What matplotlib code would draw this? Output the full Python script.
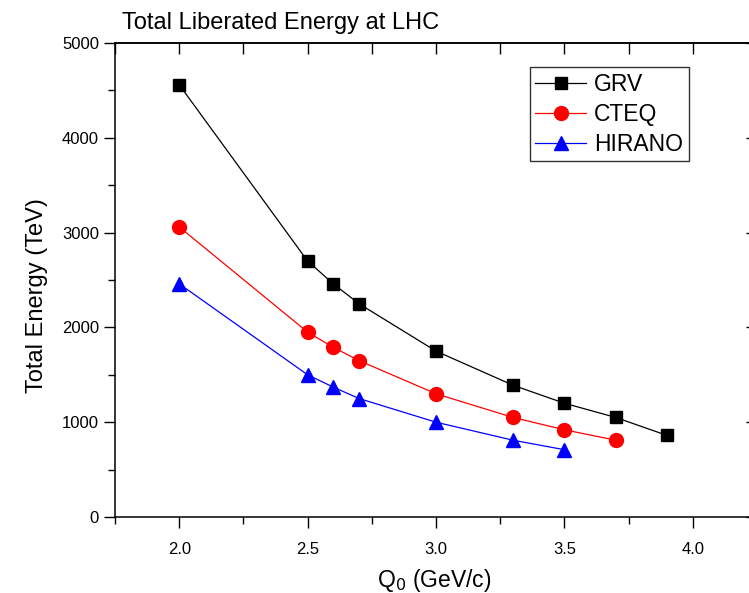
import matplotlib
matplotlib.use("Agg")
import matplotlib.pyplot as plt
from matplotlib.ticker import MultipleLocator, FormatStrFormatter

plt.rcParams['font.family'] = ['Liberation Sans', 'DejaVu Sans']

# Q0 values (GeV/c) and total liberated energy (TeV)
q_grv = [2.0, 2.5, 2.6, 2.7, 3.0, 3.3, 3.5, 3.7, 3.9]
e_grv = [4560, 2700, 2460, 2250, 1750, 1390, 1200, 1050, 860]

q_cteq = [2.0, 2.5, 2.6, 2.7, 3.0, 3.3, 3.5, 3.7]
e_cteq = [3060, 1950, 1790, 1650, 1300, 1050, 920, 810]

q_hirano = [2.0, 2.5, 2.6, 2.7, 3.0, 3.3, 3.5]
e_hirano = [2460, 1500, 1370, 1250, 1000, 810, 710]

fig = plt.figure(figsize=(7.49, 5.93), dpi=100)
# axes runs a bit past the right edge of the figure
ax = fig.add_axes([115 / 749, 76 / 593, 642 / 749, 474 / 593])

ax.plot(q_grv, e_grv, color='black', lw=0.9, marker='s', ms=9, label='GRV')
ax.plot(q_cteq, e_cteq, color='red', lw=0.9, marker='o', ms=10, label='CTEQ')
ax.plot(q_hirano, e_hirano, color='blue', lw=0.9, marker='^', ms=10, label='HIRANO')

ax.set_xlim(1.75, 4.25)
ax.set_ylim(0, 5000)
ax.xaxis.set_major_locator(MultipleLocator(0.5))
ax.xaxis.set_minor_locator(MultipleLocator(0.25))
ax.yaxis.set_major_locator(MultipleLocator(1000))
ax.yaxis.set_minor_locator(MultipleLocator(500))
ax.xaxis.set_major_formatter(FormatStrFormatter('%.1f'))

for s in ax.spines.values():
    s.set_linewidth(1.1)

ax.tick_params(which='both', direction='out', width=1.0, labelsize=12,
               top=False, right=False)
ax.tick_params(which='major', length=8)
ax.tick_params(which='minor', length=5)
ax.tick_params(axis='x', which='major', pad=10)

# inward ticks along the top and right edges
top = ax.secondary_xaxis('top')
top.xaxis.set_major_locator(MultipleLocator(0.25))
top.tick_params(direction='in', length=8, width=1.0, labeltop=False)
top.spines['top'].set_linewidth(1.1)
right = ax.secondary_yaxis('right')
right.yaxis.set_major_locator(MultipleLocator(1000))
right.yaxis.set_minor_locator(MultipleLocator(500))
right.tick_params(which='major', direction='in', length=8, width=1.0, labelright=False)
right.tick_params(which='minor', direction='in', length=5, width=1.0)
right.spines['right'].set_linewidth(1.1)

ax.set_xlabel('Q$_0$ (GeV/c)', fontsize=16.5)
ax.xaxis.set_label_coords(0.497, -0.105)
ax.set_ylabel('Total Energy (TeV)', fontsize=17)
ax.yaxis.set_label_coords(-0.104, 0.468)
fig.text(122 / 749, 1 - 29 / 593, 'Total Liberated Energy at LHC',
         fontsize=17, ha='left', va='baseline')

leg = ax.legend(loc='upper left', bbox_to_anchor=(0.646, 0.949), fontsize=16.5,
                frameon=True, fancybox=False, edgecolor='black',
                handlelength=2.2, handletextpad=0.35, borderpad=0.25,
                labelspacing=0.3, borderaxespad=0)
leg.get_frame().set_linewidth(1.0)

fig.savefig('out.png', dpi=100)
